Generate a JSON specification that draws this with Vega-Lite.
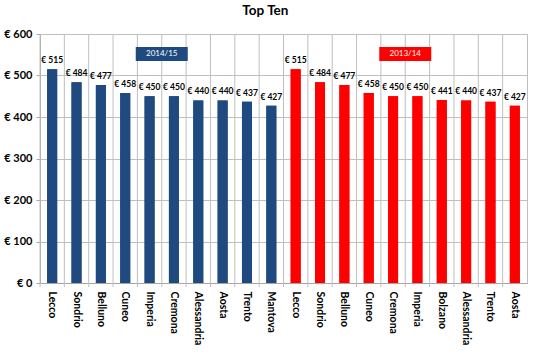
{
  "$schema": "https://vega.github.io/schema/vega-lite/v6.json",
  "width": 487,
  "height": 249,
  "autosize": "none",
  "padding": {"left": 40, "top": 34, "right": 8, "bottom": 74},
  "background": "white",
  "title": {"text": "Top Ten", "font": "Lato", "fontSize": 13.5, "fontWeight": "bold", "color": "black", "anchor": "middle", "frame": "bounds", "offset": 11},
  "config": {
    "view": {"stroke": "#BFBFBF", "strokeWidth": 1},
    "font": "Lato"
  },
  "datasets": {
    "bars": [
      {"key": "Lecco|1", "name": "Lecco", "period": "2014/15", "value": 515},
      {"key": "Sondrio|1", "name": "Sondrio", "period": "2014/15", "value": 484},
      {"key": "Belluno|1", "name": "Belluno", "period": "2014/15", "value": 477},
      {"key": "Cuneo|1", "name": "Cuneo", "period": "2014/15", "value": 458},
      {"key": "Imperia|1", "name": "Imperia", "period": "2014/15", "value": 450},
      {"key": "Cremona|1", "name": "Cremona", "period": "2014/15", "value": 450},
      {"key": "Alessandria|1", "name": "Alessandria", "period": "2014/15", "value": 440},
      {"key": "Aosta|1", "name": "Aosta", "period": "2014/15", "value": 440},
      {"key": "Trento|1", "name": "Trento", "period": "2014/15", "value": 437},
      {"key": "Mantova|1", "name": "Mantova", "period": "2014/15", "value": 427},
      {"key": "Lecco|2", "name": "Lecco", "period": "2013/14", "value": 515},
      {"key": "Sondrio|2", "name": "Sondrio", "period": "2013/14", "value": 484},
      {"key": "Belluno|2", "name": "Belluno", "period": "2013/14", "value": 477},
      {"key": "Cuneo|2", "name": "Cuneo", "period": "2013/14", "value": 458},
      {"key": "Cremona|2", "name": "Cremona", "period": "2013/14", "value": 450},
      {"key": "Imperia|2", "name": "Imperia", "period": "2013/14", "value": 450},
      {"key": "Bolzano|2", "name": "Bolzano", "period": "2013/14", "value": 441},
      {"key": "Alessandria|2", "name": "Alessandria", "period": "2013/14", "value": 440},
      {"key": "Trento|2", "name": "Trento", "period": "2013/14", "value": 437},
      {"key": "Aosta|2", "name": "Aosta", "period": "2013/14", "value": 427}
    ],
    "boxes": [
      {"key": "Imperia|1", "period": "2014/15", "value": 552},
      {"key": "Cremona|2", "period": "2013/14", "value": 552}
    ]
  },
  "layer": [
    {
      "data": {"name": "bars"},
      "mark": {"type": "bar", "size": 10},
      "encoding": {
        "x": {
          "field": "key", "type": "nominal", "sort": null,
          "scale": {"paddingInner": 0, "paddingOuter": 0},
          "axis": {
            "title": null,
            "labelExpr": "split(datum.value, '|')[0]",
            "labelAngle": 90,
            "labelFont": "Lato",
            "labelFontSize": 10.5,
            "labelFontWeight": "bold",
            "labelColor": "black",
            "labelPadding": 8,
            "ticks": false,
            "grid": false,
            "domainColor": "#A6A6A6"
          }
        },
        "y": {
          "field": "value", "type": "quantitative",
          "scale": {"domain": [0, 600]},
          "axis": {
            "title": null,
            "values": [0, 100, 200, 300, 400, 500, 600],
            "labelExpr": "'€ ' + datum.value",
            "labelFont": "Lato",
            "labelFontSize": 11,
            "labelFontWeight": "bold",
            "labelColor": "black",
            "labelPadding": 4,
            "grid": true,
            "gridColor": "#BFBFBF",
            "domainColor": "#A6A6A6",
            "tickColor": "#A6A6A6",
            "tickSize": 4
          }
        },
        "color": {
          "field": "period", "type": "nominal",
          "scale": {"domain": ["2014/15", "2013/14"], "range": ["#1F4A80", "#FF0000"]},
          "legend": null
        }
      }
    },
    {
      "data": {"name": "bars"},
      "mark": {"type": "rule", "color": "#BFBFBF", "strokeWidth": 1, "clip": false},
      "encoding": {
        "x": {"field": "key", "type": "nominal", "sort": null, "bandPosition": 0},
        "y": {"datum": 600, "type": "quantitative"},
        "y2": {"datum": -9.6}
      }
    },
    {
      "data": {"name": "bars"},
      "mark": {"type": "bar", "size": 10},
      "encoding": {
        "x": {"field": "key", "type": "nominal", "sort": null},
        "y": {"field": "value", "type": "quantitative"},
        "color": {"field": "period", "type": "nominal"}
      }
    },
    {
      "data": {"name": "bars"},
      "transform": [{"calculate": "'€ ' + datum.value", "as": "label"}],
      "mark": {"type": "text", "baseline": "bottom", "dy": -4, "font": "Lato", "fontSize": 8.5, "fontWeight": "bold", "color": "black"},
      "encoding": {
        "x": {"field": "key", "type": "nominal", "sort": null},
        "y": {"field": "value", "type": "quantitative"},
        "text": {"field": "label"}
      }
    },
    {
      "data": {"name": "boxes"},
      "mark": {"type": "point", "filled": true, "opacity": 1, "shape": "M-1,-0.27L1,-0.27L1,0.27L-1,0.27Z"},
      "encoding": {
        "x": {"field": "key", "type": "nominal", "sort": null, "bandPosition": 1},
        "y": {"field": "value", "type": "quantitative"},
        "size": {"value": 2704},
        "color": {"field": "period", "type": "nominal"}
      }
    },
    {
      "data": {"name": "boxes"},
      "mark": {"type": "text", "font": "Lato", "fontSize": 8, "color": "white", "baseline": "middle"},
      "encoding": {
        "x": {"field": "key", "type": "nominal", "sort": null, "bandPosition": 1},
        "y": {"field": "value", "type": "quantitative"},
        "text": {"field": "period"}
      }
    }
  ]
}
